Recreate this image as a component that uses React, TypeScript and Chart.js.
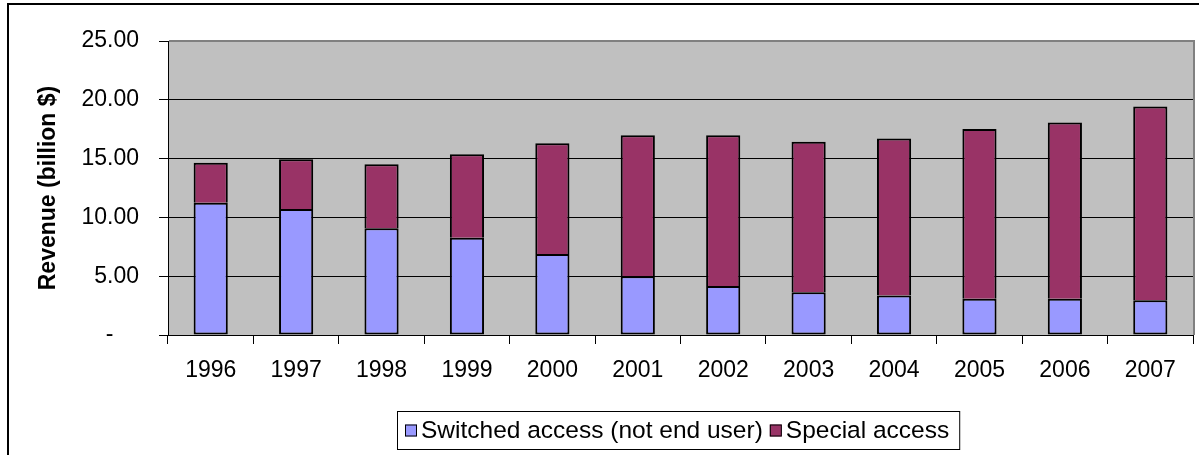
import React, { useEffect, useRef } from "react";
import { Chart, registerables } from "chart.js";

Chart.register(...registerables);

const years = ["1996", "1997", "1998", "1999", "2000", "2001", "2002", "2003", "2004", "2005", "2006", "2007"];
const switchedAccess = [11.25, 10.71, 9.07, 8.28, 6.89, 4.99, 4.17, 3.63, 3.35, 3.09, 3.09, 2.95];
const specialAccess = [3.4, 4.23, 5.44, 7.09, 9.41, 11.99, 12.81, 12.8, 13.35, 14.43, 14.97, 16.47];
const seriesNames = ["Switched access (not end user)", "Special access"];
const seriesColors = ["#9999FF", "#993366"];
const yTicks = [0, 5, 10, 15, 20, 25];

const FONT = "'Liberation Sans', Arial, sans-serif";
const W = 1199;
const H = 455;

const framePlugin = {
  id: "frame",
  beforeDraw(chart: any) {
    const ctx = chart.ctx;
    const a = chart.chartArea;
    ctx.save();
    ctx.fillStyle = "#ffffff";
    ctx.fillRect(0, 0, chart.width, chart.height);
    ctx.fillStyle = "#000000";
    ctx.fillRect(7, 3, chart.width - 7, 2);
    ctx.fillRect(7, 3, 2, chart.height - 3);
    ctx.fillStyle = "#C0C0C0";
    ctx.fillRect(a.left, a.top, a.right - a.left, a.bottom - a.top);
    ctx.restore();
  },
  afterDraw(chart: any) {
    const ctx = chart.ctx;
    const a = chart.chartArea;
    ctx.save();
    // plot area top/right border
    ctx.fillStyle = "#808080";
    ctx.fillRect(a.left + 1, a.top - 1, a.right - a.left + 1, 2);
    ctx.fillRect(a.right, a.top - 1, 2, a.bottom - a.top + 1);
    // legend
    const ds = chart.data.datasets;
    ctx.font = "24.5px " + FONT;
    const widths = ds.map((d: any) => ctx.measureText(d.label).width);
    const box = 12;
    const gapAfter = 7;
    const total = 8 + widths.reduce((s: number, w: number) => s + w + box + 4, 0) + gapAfter * (ds.length - 1) + 10;
    const center = (a.left + a.right) / 2 - 2;
    const left = Math.round(center - total / 2);
    const top = 411;
    const h = 39;
    ctx.strokeStyle = "#000";
    ctx.lineWidth = 1;
    ctx.strokeRect(left + 0.5, top + 0.5, total, h - 1);
    let x = left + 8;
    const midY = top + 19.5;
    ds.forEach((d: any, i: number) => {
      ctx.fillStyle = d.backgroundColor;
      ctx.fillRect(x, midY - 6, box, box);
      ctx.strokeRect(x + 0.5, midY - 6 + 0.5, box - 1, box - 1);
      ctx.fillStyle = "#000";
      ctx.textAlign = "left";
      ctx.textBaseline = "middle";
      ctx.fillText(d.label, x + box + 4, midY + 1);
      x += box + 4 + widths[i] + gapAfter;
    });
    ctx.restore();
  },
};

export default function App() {
  const ref = useRef<HTMLCanvasElement | null>(null);
  useEffect(() => {
    if (!ref.current) return;
    const chart = new Chart(ref.current, {
      type: "bar",
      data: {
        labels: years,
        datasets: [
          {
            label: seriesNames[0],
            data: switchedAccess,
            backgroundColor: seriesColors[0],
            borderColor: "#000",
            borderWidth: 2,
            borderSkipped: false,
            categoryPercentage: 1,
            barPercentage: 0.4,
          },
          {
            label: seriesNames[1],
            data: specialAccess,
            backgroundColor: seriesColors[1],
            borderColor: "#000",
            borderWidth: { top: 2, left: 2, right: 2, bottom: 0 },
            borderSkipped: false,
            categoryPercentage: 1,
            barPercentage: 0.4,
          },
        ],
      },
      options: {
        responsive: false,
        animation: false,
        layout: { padding: { left: 35, top: 41, right: W - 1193, bottom: 70 } },
        plugins: {
          legend: { display: false },
          tooltip: { enabled: false },
        },
        scales: {
          x: {
            stacked: true,
            afterFit: (s: any) => {
              s.height = 50;
            },
            grid: {
              offset: true,
              drawOnChartArea: false,
              drawTicks: true,
              tickLength: 9,
              color: "#000",
              tickColor: "#000",
            },
            border: { color: "#000", width: 1 },
            ticks: {
              color: "#000",
              padding: 13,
              maxRotation: 0,
              autoSkip: false,
              font: { family: FONT, size: 23 },
            },
          },
          y: {
            stacked: true,
            min: 0,
            max: 25,
            afterFit: (s: any) => {
              s.width = 133;
            },
            afterBuildTicks: (s: any) => {
              s.ticks = yTicks.map((v) => ({ value: v }));
            },
            grid: {
              color: (c: any) => (c.tick && c.tick.value === 25 ? "#808080" : "#000"),
              tickColor: "#000",
              tickLength: 9,
              drawTicks: true,
            },
            border: { color: "#000", width: 1 },
            ticks: {
              color: "#000",
              padding: 20,
              font: { family: FONT, size: 23 },
              callback: (v: any) => (Number(v) === 0 ? "-    " : Number(v).toFixed(2)),
            },
            title: {
              display: true,
              text: "Revenue (billion $)",
              color: "#000",
              padding: 0,
              font: { family: FONT, size: 23, weight: "bold" },
            },
          },
        },
      },
      plugins: [framePlugin],
    });
    return () => chart.destroy();
  }, []);
  return (
    <div style={{ position: "absolute", left: 0, top: 0, width: W, height: H }}>
      <canvas ref={ref} width={W} height={H} style={{ display: "block", width: W, height: H }} />
    </div>
  );
}
